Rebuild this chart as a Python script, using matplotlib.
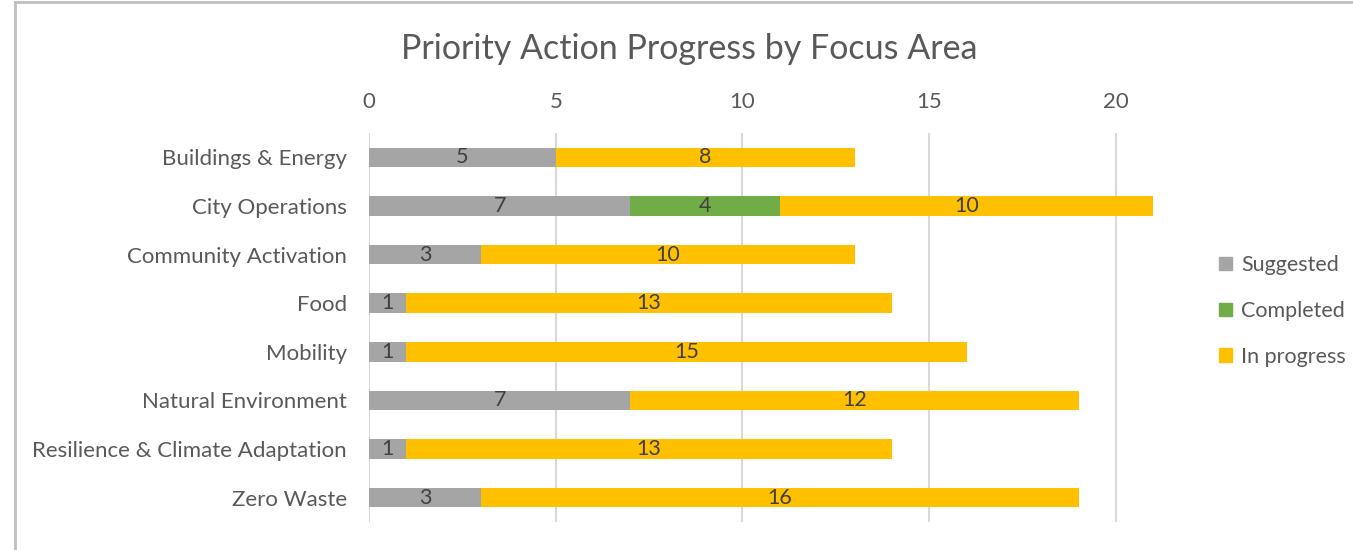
import matplotlib.pyplot as plt
import matplotlib.patches as patches
from matplotlib.lines import Line2D

plt.rcParams['font.family'] = ['Lato', 'DejaVu Sans']

areas = ['Buildings & Energy', 'City Operations', 'Community Activation', 'Food',
         'Mobility', 'Natural Environment', 'Resilience & Climate Adaptation', 'Zero Waste']
suggested = [5, 7, 3, 1, 1, 7, 1, 3]
completed = [0, 4, 0, 0, 0, 0, 0, 0]
in_progress = [8, 10, 10, 13, 15, 12, 13, 16]
x_ticks = [0, 5, 10, 15, 20]

series = [('Suggested', suggested, '#A5A5A5'),
          ('Completed', completed, '#70AD47'),
          ('In progress', in_progress, '#FFC000')]

text_col = '#595959'

fig = plt.figure(figsize=(13.53, 5.5), dpi=100)
ax = fig.add_axes([369 / 1353, 1 - 522 / 550, (1172 - 369) / 1353, (522 - 133) / 550])

ypos = list(range(len(areas)))
left = [0] * len(areas)
handles = []
for name, vals, col in series:
    bars = ax.barh(ypos, vals, left=left, height=0.40, color=col, label=name, zorder=2)
    labels = [str(v) if v > 0 else '' for v in vals]
    ax.bar_label(bars, labels=labels, label_type='center', fontsize=15.5, color='#404040')
    left = [l + v for l, v in zip(left, vals)]
    handles.append(patches.Patch(color=col, label=name))

ax.set_xlim(0, 21.5)
ax.set_ylim(len(areas) - 0.5, -0.5)
ax.set_yticks(ypos)
ax.set_yticklabels(areas, fontsize=16, color=text_col)
ax.set_xticks(x_ticks)
ax.xaxis.tick_top()
ax.tick_params(axis='x', labelsize=16, labelcolor=text_col, length=0, pad=15)
ax.tick_params(axis='y', length=0, pad=16)
ax.grid(axis='x', color='#D9D9D9', linewidth=1.5, zorder=0)
for s in ax.spines.values():
    s.set_visible(False)

fig.text(689 / 1353, 1 - 49 / 550, 'Priority Action Progress by Focus Area',
         ha='center', va='center', fontsize=24.5, color=text_col)

leg = fig.legend(handles=handles, loc='center left', bbox_to_anchor=(1200 / 1353, 1 - 311 / 550),
                 frameon=False, fontsize=15.5, handlelength=0.6, handleheight=0.6,
                 handletextpad=0.4, labelspacing=1.2)
for t in leg.get_texts():
    t.set_color(text_col)

# chart border (cropped on the right and bottom)
fig.add_artist(Line2D([15 / 1353, 1], [1 - 1.5 / 550, 1 - 1.5 / 550], color='#BFBFBF', linewidth=2))
fig.add_artist(Line2D([15 / 1353, 15 / 1353], [0, 1 - 1.5 / 550], color='#BFBFBF', linewidth=2))

fig.savefig('out.png', dpi=100)
